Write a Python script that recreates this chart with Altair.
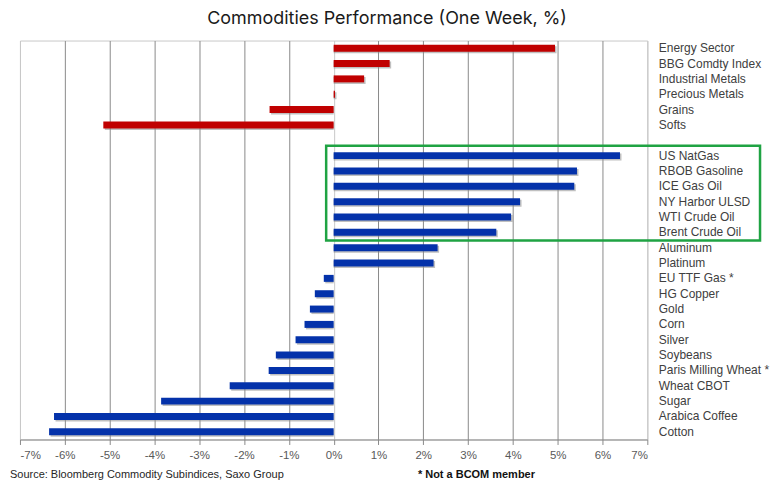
import altair as alt
import pandas as pd

# ---- data ----
sectors = ["Energy Sector", "BBG Comdty Index", "Industrial Metals",
           "Precious Metals", "Grains", "Softs"]
sector_values = [4.94, 1.25, 0.68, 0.03, -1.43, -5.14]

commodities = ["US NatGas", "RBOB Gasoline", "ICE Gas Oil", "NY Harbor ULSD",
               "WTI Crude Oil", "Brent Crude Oil", "Aluminum", "Platinum",
               "EU TTF Gas *", "HG Copper", "Gold", "Corn", "Silver", "Soybeans",
               "Paris Milling Wheat *", "Wheat CBOT", "Sugar", "Arabica Coffee",
               "Cotton"]
commodity_values = [6.39, 5.43, 5.37, 4.16, 3.96, 3.63, 2.32, 2.23, -0.22,
                    -0.42, -0.53, -0.65, -0.85, -1.29, -1.45, -2.32, -3.85,
                    -6.24, -6.35]

spacer = " "
x_ticks = list(range(-7, 8))
title_text = "Commodities Performance (One Week, %)"
source_text = "Source: Bloomberg Commodity Subindices, Saxo Group"
note_text = "* Not a BCOM member"

order = sectors + [spacer] + commodities

df = pd.DataFrame({
    "name": sectors + commodities,
    "value": sector_values + commodity_values,
    "group": ["Sector"] * len(sectors) + ["Commodity"] * len(commodities),
})

FONT = "Liberation Sans"
W, H = 629, 400

y_enc = alt.Y("name:N", sort=order,
              scale=alt.Scale(domain=order, paddingInner=0, paddingOuter=0),
              axis=alt.Axis(orient="right", title=None, ticks=False, domain=False,
                            grid=False, labelAlign="left", labelPadding=11,
                            labelFont=FONT, labelFontSize=12,
                            labelColor="#404040"))
x_enc = alt.X("value:Q",
              scale=alt.Scale(domain=[-7, 7], nice=False, zero=False),
              axis=alt.Axis(values=x_ticks, title=None,
                            labelExpr="datum.value + '%'",
                            grid=True,
                            gridColor=alt.condition(
                                "datum.value == 0 || datum.value == -7 || datum.value == 7",
                                alt.value("#c8c8c8"), alt.value("#8a8a8a")),
                            gridWidth=1,
                            domainColor="#8a8a8a", tickColor="#8a8a8a",
                            tickSize=5, labelPadding=5,
                            labelFont=FONT, labelFontSize=11.5,
                            labelColor="#595959"))

base = alt.Chart(df)

shadow = base.mark_bar(size=7, xOffset=1.5, yOffset=1.5, color="#8c8c8c",
                       opacity=0.55).encode(x=x_enc, y=y_enc, x2=alt.datum(0))

bars = base.mark_bar(size=7).encode(
    x=x_enc, x2=alt.datum(0), y=y_enc,
    color=alt.Color("group:N",
                    scale=alt.Scale(domain=["Sector", "Commodity"],
                                    range=["#C00000", "#0432AA"]),
                    legend=None),
)

deco = pd.DataFrame({"k": [0]})

box = alt.Chart(deco).mark_rect(fill=None, stroke="#1FA343", strokeWidth=2.5,
                                clip=False).encode(
    x=alt.value(307), x2=alt.value(742),
    y=alt.value(105.5), y2=alt.value(200.5))

title = alt.Chart(deco).mark_text(font="Inter", fontSize=18, color="#1a1a1a",
                                  baseline="middle", align="center").encode(
    x=alt.value(368), y=alt.value(-22), text=alt.value(title_text))

source = alt.Chart(deco).mark_text(font=FONT, fontSize=11, color="#262626",
                                   baseline="middle", align="left").encode(
    x=alt.value(-10), y=alt.value(436), text=alt.value(source_text))

note = alt.Chart(deco).mark_text(font=FONT, fontSize=11, fontWeight="bold",
                                 color="#111111", baseline="middle",
                                 align="left").encode(
    x=alt.value(399), y=alt.value(436), text=alt.value(note_text))

chart = alt.layer(shadow, bars, box, title, source, note).properties(
    width=W, height=H,
    padding={"left": 12, "top": 32, "right": 124, "bottom": 42},
    autosize=alt.AutoSizeParams(type="none"),
).configure_view(stroke="#c8c8c8", strokeWidth=1)

chart.save("out.html", embed_options={"renderer": "svg", "actions": False})
